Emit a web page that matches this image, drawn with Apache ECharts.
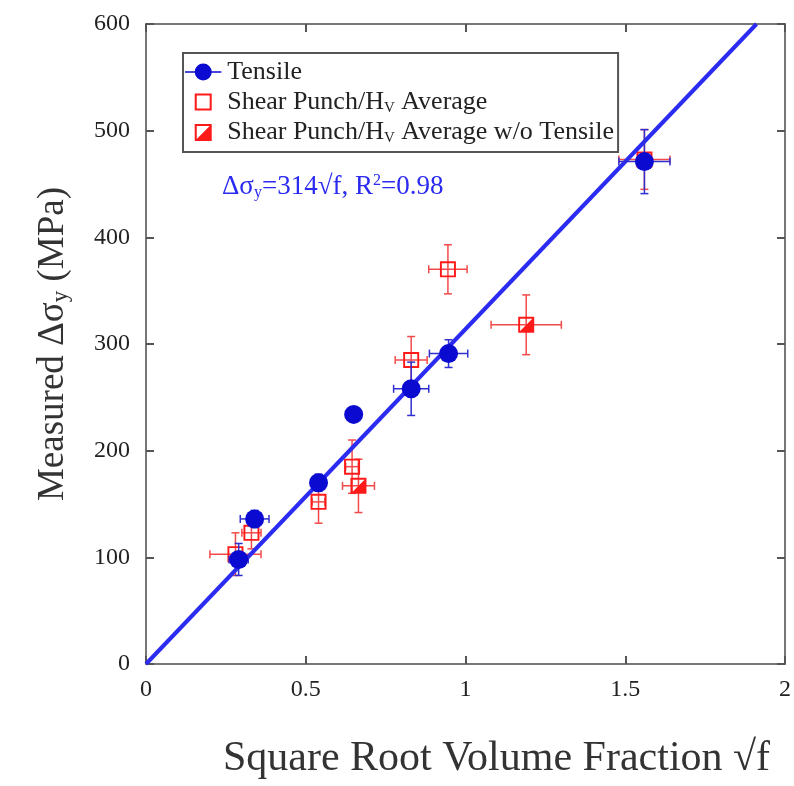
<!DOCTYPE html>
<html>
<head>
<meta charset="utf-8">
<script src="https://cdn.jsdelivr.net/npm/echarts@6/dist/echarts.min.js"></script>
<style>
  html, body { margin: 0; padding: 0; background: #fff; }
  #chart { width: 794px; height: 786px; }
</style>
</head>
<body>
<div id="chart"></div>
<script>
// tensile tests: x = sqrt(f), y = measured delta sigma_y (MPa)
var tensileX = [0.29, 0.34, 0.54, 0.65, 0.83, 0.947, 1.56];
var tensileY = [98, 136, 170, 234, 258, 291, 471];
var tensileXErr = [0.03, 0.045, 0.02, 0.02, 0.055, 0.06, 0.08];
var tensileYErr = [15, 8, 8, 6, 25, 13, 30];

// shear punch / Hv average
var shearX = [0.28, 0.33, 0.54, 0.645, 0.83, 0.945, 1.56];
var shearY = [103, 123, 152, 185, 285, 370, 473];
var shearXErr = [0.08, 0.03, 0.02, 0.02, 0.05, 0.06, 0.08];
var shearYErr = [20, 15, 20, 25, 22, 23, 28];

// shear punch / Hv average w/o tensile
var woX = [0.665, 1.19];
var woY = [167, 318];
var woXErr = [0.05, 0.11];
var woYErr = [25, 28];

// fit line endpoints (314 * sqrt f)
var fitLine = [[0, 0], [1.911, 600]];

var xTicks = [0, 0.5, 1, 1.5, 2];
var yTicks = [0, 100, 200, 300, 400, 500, 600];

var FONT = "'Liberation Serif', 'Times New Roman', serif";
var BLUE = '#0a0ad0';
var RED = '#ff1a1a';

function zip4(a, b, c, d) {
  return a.map(function (v, i) { return [v, b[i], c[i], d[i]]; });
}

function errorBars(color) {
  return function (params, api) {
    var x = api.value(0), y = api.value(1), dx = api.value(2), dy = api.value(3);
    var l = api.coord([x - dx, y]), r = api.coord([x + dx, y]);
    var t = api.coord([x, y + dy]), b = api.coord([x, y - dy]);
    var cap = 4;
    var st = { stroke: color, lineWidth: 1.5 };
    function seg(x1, y1, x2, y2) {
      return { type: 'line', shape: { x1: x1, y1: y1, x2: x2, y2: y2 }, style: st };
    }
    return {
      type: 'group',
      children: [
        seg(l[0], l[1], r[0], r[1]),
        seg(l[0], l[1] - cap, l[0], l[1] + cap),
        seg(r[0], r[1] - cap, r[0], r[1] + cap),
        seg(t[0], t[1], b[0], b[1]),
        seg(t[0] - cap, t[1], t[0] + cap, t[1]),
        seg(b[0] - cap, b[1], b[0] + cap, b[1])
      ]
    };
  };
}

var openSquare = 'path://M0,0 L10,0 L10,10 L0,10 Z M1.2,1.2 L1.2,8.8 L8.8,8.8 L8.8,1.2 Z';
var halfSquare = 'path://M0,0 L10,0 L10,10 L0,10 Z M1.2,1.2 L1.2,8.8 L8.8,8.8 L8.8,1.2 Z M8.8,1.2 L8.8,8.8 L1.2,8.8 Z';
var lineCircle = 'path://M0,8.3 L30,8.3 L30,9.7 L0,9.7 Z M22,9 A7,7 0 1 1 8,9 A7,7 0 1 1 22,9 Z';

var chart = echarts.init(document.getElementById('chart'));

var axisCommon = {
  type: 'value',
  axisLine: { show: true, onZero: false, lineStyle: { color: '#777', width: 2 } },
  axisTick: { show: true, inside: true, length: 8, lineStyle: { color: '#555', width: 2 } },
  splitLine: { show: false }
};

var option = {
  backgroundColor: '#fff',
  animation: false,
  grid: { left: 146, right: 8, top: 24, bottom: 122, containLabel: false },
  legend: {
    orient: 'vertical',
    left: 183,
    top: 53,
    padding: [6, 4, 6, 2],
    itemGap: 4,
    itemWidth: 38,
    itemHeight: 17,
    borderColor: '#555',
    borderWidth: 2,
    selectedMode: false,
    textStyle: {
      fontFamily: FONT, fontSize: 26, color: '#222',
      rich: { sub: { fontFamily: FONT, fontSize: 15, color: '#222', verticalAlign: 'bottom', padding: [12, 0, 0, 0] } }
    },
    formatter: function (name) {
      if (name === 'Tensile') return 'Tensile';
      if (name === 'Shear Punch/Hv Average') return 'Shear Punch/H{sub|V} Average';
      return 'Shear Punch/H{sub|V} Average w/o Tensile';
    },
    data: [
      { name: 'Tensile', icon: lineCircle, itemStyle: { color: BLUE, opacity: 1 } },
      { name: 'Shear Punch/Hv Average', icon: openSquare, itemStyle: { color: RED, opacity: 1 } },
      { name: 'Shear Punch/Hv Average w/o Tensile', icon: halfSquare, itemStyle: { color: RED, opacity: 1 } }
    ]
  },
  xAxis: [
    Object.assign({}, axisCommon, {
      min: 0, max: 2, interval: 0.5,
      position: 'bottom',
      axisLabel: {
        fontFamily: FONT, fontSize: 24, color: '#222', margin: 14,
        formatter: function (v) { return xTicks.indexOf(v) >= 0 ? String(v) : ''; }
      },
      name: 'Square Root Volume Fraction \u221Af',
      nameLocation: 'middle',
      nameGap: 74,
      nameTextStyle: { fontFamily: FONT, fontSize: 42, color: '#333', padding: [0, 0, 0, 62] }
    }),
    Object.assign({}, axisCommon, {
      min: 0, max: 2, interval: 0.5,
      position: 'top',
      axisLabel: { show: false }
    })
  ],
  yAxis: [
    Object.assign({}, axisCommon, {
      min: 0, max: 600, interval: 100,
      position: 'left',
      axisLabel: {
        fontFamily: FONT, fontSize: 24, color: '#222', margin: 16,
        formatter: function (v) { return yTicks.indexOf(v) >= 0 ? String(v) : ''; }
      },
      name: 'Measured \u0394\u03C3{sub|y} (MPa)',
      nameLocation: 'middle',
      nameRotate: 90,
      nameGap: 74,
      nameTextStyle: {
        fontFamily: FONT, fontSize: 37, color: '#333',
        rich: { sub: { fontFamily: FONT, fontSize: 23, color: '#333', verticalAlign: 'bottom', padding: [15, 0, 0, 0] } }
      }
    }),
    Object.assign({}, axisCommon, {
      min: 0, max: 600, interval: 100,
      position: 'right',
      axisLabel: { show: false }
    })
  ],
  graphic: [
    {
      type: 'text',
      left: 222,
      top: 173,
      style: {
        text: '\u0394\u03C3{sub|y}=314\u221Af, R{sup|2}=0.98',
        fontFamily: FONT, fontSize: 27, fill: '#2a2af0',
        rich: {
          sub: { fontFamily: FONT, fontSize: 16, fill: '#2a2af0', verticalAlign: 'bottom', padding: [12, 0, 0, 0] },
          sup: { fontFamily: FONT, fontSize: 16, fill: '#2a2af0', verticalAlign: 'top', padding: [0, 0, 11, 0] }
        }
      }
    }
  ],
  series: [
    {
      name: 'shearErr',
      type: 'custom',
      renderItem: errorBars('#f24a4a'),
      encode: { x: 0, y: 1 },
      data: zip4(shearX, shearY, shearXErr, shearYErr).concat(zip4(woX, woY, woXErr, woYErr)),
      z: 2
    },
    {
      name: 'Shear Punch/Hv Average',
      type: 'scatter',
      symbol: openSquare,
      symbolSize: 16,
      itemStyle: { color: RED, opacity: 1 },
      data: shearX.map(function (v, i) { return [v, shearY[i]]; }),
      z: 3
    },
    {
      name: 'Shear Punch/Hv Average w/o Tensile',
      type: 'scatter',
      symbol: halfSquare,
      symbolSize: 16,
      itemStyle: { color: RED, opacity: 1 },
      data: woX.map(function (v, i) { return [v, woY[i]]; }),
      z: 3
    },
    {
      name: 'fit',
      type: 'line',
      data: fitLine,
      symbol: 'none',
      lineStyle: { color: '#2b2bf2', width: 4 },
      z: 4
    },
    {
      name: 'tensileErr',
      type: 'custom',
      renderItem: errorBars('#3030d0'),
      encode: { x: 0, y: 1 },
      data: zip4(tensileX, tensileY, tensileXErr, tensileYErr),
      z: 5
    },
    {
      name: 'Tensile',
      type: 'scatter',
      symbol: 'circle',
      symbolSize: 19,
      itemStyle: { color: BLUE, opacity: 1 },
      data: tensileX.map(function (v, i) { return [v, tensileY[i]]; }),
      z: 6
    }
  ]
};

chart.setOption(option);
</script>
</body>
</html>
